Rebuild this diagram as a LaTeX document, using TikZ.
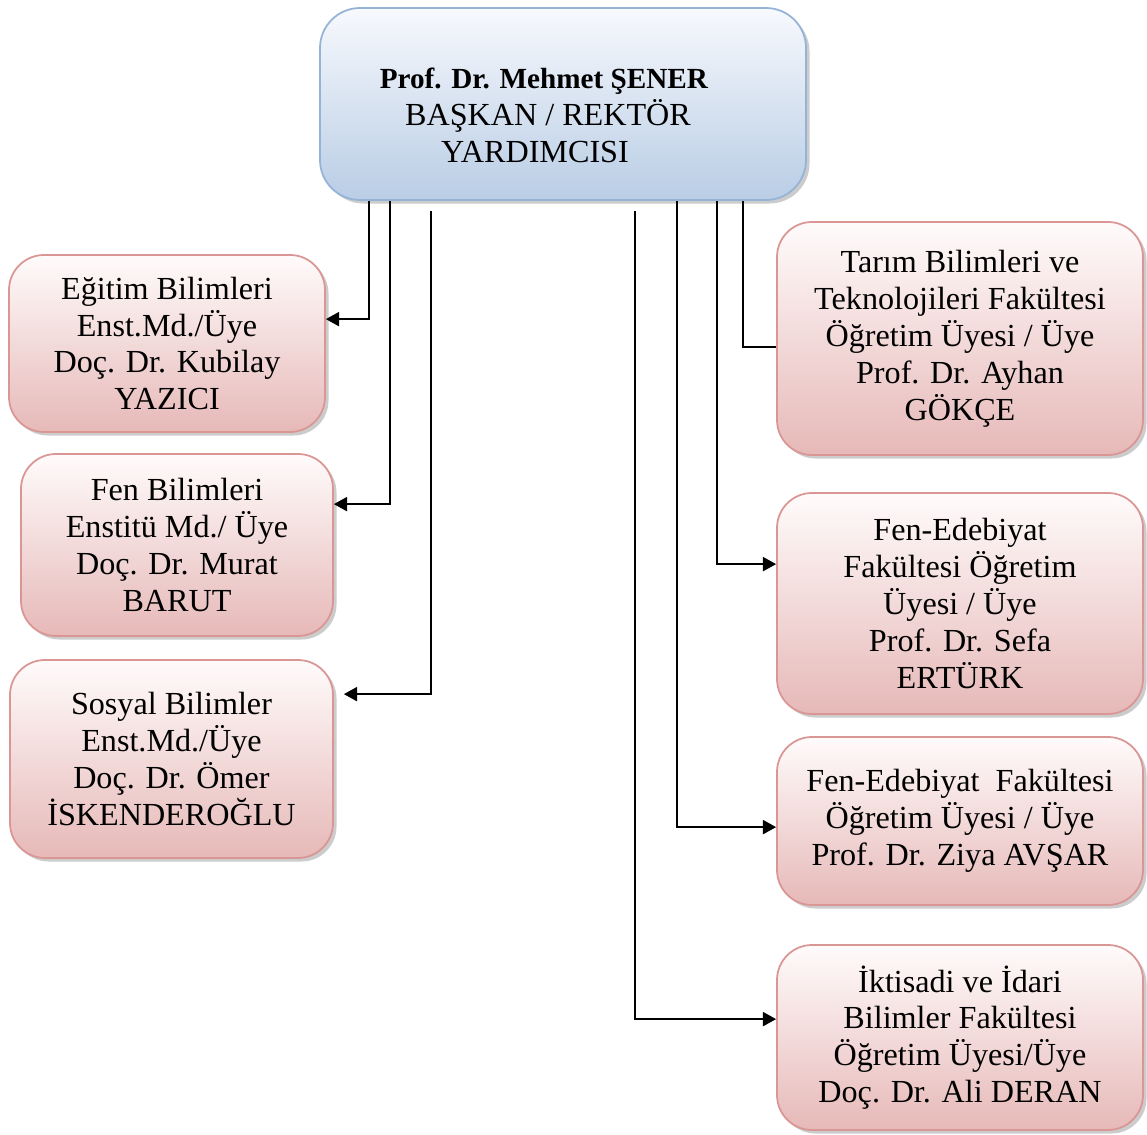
\documentclass[tikz,border=0pt]{standalone}
\usepackage{fontspec}
\setmainfont{Liberation Serif}
\usepackage{tikz}
\usetikzlibrary{positioning, arrows.meta, shadows, calc}

\definecolor{pinkedge}{HTML}{D99694}
\definecolor{pinkbot}{HTML}{E6B9B8}
\definecolor{pinktop}{HTML}{FFFBFB}
\definecolor{blueedge}{HTML}{95B3D7}
\definecolor{bluebot}{HTML}{B9CDE5}
\definecolor{bluetop}{HTML}{F7F9FD}

\begin{document}
\begin{tikzpicture}
	[x=0.02cm, y=-0.02cm,
	 every node/.style={font=\fontsize{18.3}{21}\selectfont, align=center},
	 kutu/.style 2 args={rounded corners=0.7cm, draw=pinkedge, line width=1pt,
	   top color=pinktop, bottom color=pinkbot,
	   drop shadow={shadow xshift=2pt, shadow yshift=-2pt, fill=black!40},
	   minimum width=#1*0.02cm, minimum height=#2*0.02cm, inner sep=0pt},
	 bas/.style 2 args={rounded corners=0.8cm, draw=blueedge, line width=1pt,
	   top color=bluetop, bottom color=bluebot,
	   drop shadow={shadow xshift=2pt, shadow yshift=-2pt, fill=black!40},
	   minimum width=#1*0.02cm, minimum height=#2*0.02cm, inner sep=0pt},
	 ok/.style={line width=1.1pt, -{Triangle[length=7.5pt,width=8pt]}},
	 cizgi/.style={line width=1.1pt}]
   \useasboundingbox (0,0) rectangle (1147,1135);

   \node[bas={486}{192}] (baskan) at (563,104)
     {\begin{tabular}{@{}c@{}}
      \rule{0pt}{31pt}{\fontsize{16.6}{21}\selectfont\textbf{Prof. Dr. Mehmet ŞENER}}\hspace*{0.76cm}\\
      BAŞKAN / REKTÖR\hspace*{0.6cm}\\
      YARDIMCISI\hspace*{1.12cm}
      \end{tabular}};

   \node[kutu={316}{177}] (ens_1) at (167,343.5)
     {Eğitim Bilimleri\\Enst.Md./Üye\\Doç. Dr. Kubilay\\YAZICI};
   \node[kutu={312}{182}] (ens_2) at (177,545)
     {Fen Bilimleri\\Enstitü Md./ Üye\\Doç. Dr. Murat\\BARUT};
   \node[kutu={323}{198}] (ens_3) at (171.5,759)
     {Sosyal Bilimler\\Enst.Md./Üye\\Doç. Dr. Ömer\\İSKENDEROĞLU};

   \node[kutu={366}{233}] (fak_1) at (960,338.5)
     {Tarım Bilimleri ve\\Teknolojileri Fakültesi\\Öğretim Üyesi / Üye\\Prof. Dr. Ayhan\\GÖKÇE};
   \node[kutu={366}{221}] (fak_2) at (960,603.5)
     {Fen-Edebiyat\\Fakültesi Öğretim\\Üyesi / Üye\\Prof. Dr. Sefa\\ERTÜRK};
   \node[kutu={366}{168}] (fak_3) at (960,821)
     {Fen-Edebiyat\ \ Fakültesi\\Öğretim Üyesi / Üye\\Prof. Dr. Ziya AVŞAR};
   \node[kutu={366}{185}] (fak_4) at (960,1037.5)
     {İktisadi ve İdari\\Bilimler Fakültesi\\Öğretim Üyesi/Üye\\Doç. Dr. Ali DERAN};

   % sol taraf
   \draw[ok] ($(baskan.south west)+(50,0)$) |- ($(ens_1.north east)+(0,65)$);
   \draw[ok] ($(baskan.south west)+(71,0)$) |- ($(ens_2.north east)+(0,51)$);
   \draw[ok] ($(baskan.south west)+(112,10)$) |- ($(ens_3.north east)+(10,35)$);

   % sag taraf
   \draw[cizgi] ($(baskan.south west)+(424,0)$) |- ($(fak_1.north west)+(0,126)$);
   \draw[ok] ($(baskan.south west)+(398,0)$) |- ($(fak_2.north west)+(0,72)$);
   \draw[ok] ($(baskan.south west)+(358,0)$) |- ($(fak_3.north west)+(0,91)$);
   \draw[ok] ($(baskan.south west)+(316,10)$) |- ($(fak_4.north west)+(0,75)$);
\end{tikzpicture}
\end{document}
